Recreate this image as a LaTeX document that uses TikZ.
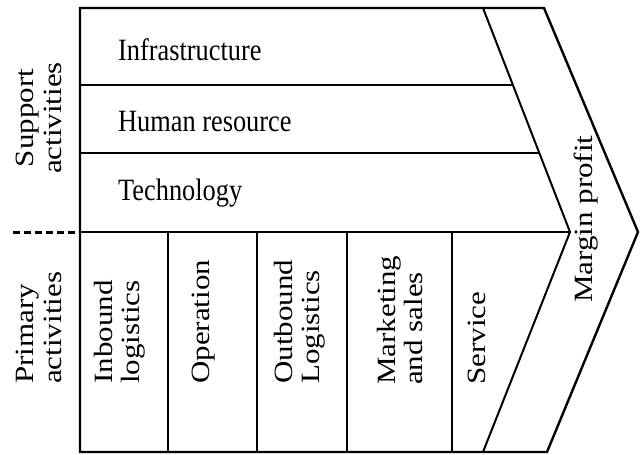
\documentclass[tikz,border=0pt]{standalone}
\usepackage{fontspec}
\setmainfont{Liberation Serif}
\begin{document}
\begin{tikzpicture}[x=1pt,y=-1pt,
  frame/.style={line width=2.4pt, line join=miter},
  thin/.style={line width=2pt},
  lbl/.style={font=\fontsize{31}{32}\selectfont, inner sep=0pt, xscale=0.85},
  hlbl/.style={lbl, anchor=base west},
  vlbl/.style={lbl, rotate=90, anchor=west, align=left}]
\useasboundingbox (0,0) rectangle (641,455);
% outer frame and chevrons
\draw[frame] (80,8) -- (544,8) -- (638,232) -- (547,452) -- (80,452) -- cycle;
\draw[thin] (483,8) -- (570,232) -- (483,452);
% support rows
\draw[frame] (80,85) -- (513,85);
\draw[thin] (80,153) -- (540,153);
\draw[frame] (80,232) -- (570,232);
% primary columns
\foreach \x in {168,257,347,452} \draw[thin] (\x,232) -- (\x,452);
% dashed separator
\draw[line width=3pt, dash pattern=on 7pt off 4pt] (13,232) -- (80,232);
% labels
\node[hlbl] (infra) at (118,60) {Infrastructure};
\node[hlbl] (hr) at (118,131) {Human resource};
\node[hlbl] (tech) at (118,200) {Technology};
\node[lbl, rotate=90, align=center] (support) at (39,118) {Support\\activities};
\node[vlbl] (primary) at (39,384) {Primary\\activities};
\node[vlbl] (inbound) at (120,384) {Inbound\\logistics};
\node[vlbl] (oper) at (204,384) {Operation};
\node[vlbl] (outbound) at (300,384) {Outbound\\Logistics};
\node[vlbl] (market) at (400,385) {Marketing\\and sales};
\node[vlbl] (service) at (477,385) {Service};
\node[vlbl] (margin) at (586,303) {Margin profit};
\end{tikzpicture}
\end{document}
